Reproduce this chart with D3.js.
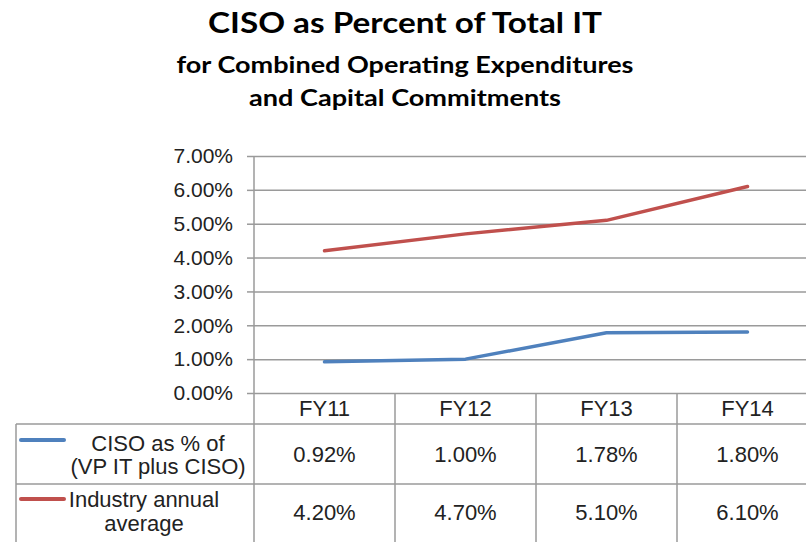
<!DOCTYPE html>
<html>
<head>
<meta charset="utf-8">
<script src="https://cdn.jsdelivr.net/npm/d3@7"></script>
<style>
  body { margin: 0; background: #fff; }
  svg { display: block; }
</style>
</head>
<body>
<script>
// chart data
const categories = ['FY11', 'FY12', 'FY13', 'FY14'];
const cisoValues = [0.92, 1.00, 1.78, 1.80];
const industryValues = [4.20, 4.70, 5.10, 6.10];
const yTicks = [0, 1, 2, 3, 4, 5, 6, 7];
const seriesLabels = [['CISO as % of', '(VP IT plus CISO)'], ['Industry annual', 'average']];
const titleLines = ['CISO as Percent of Total IT', 'for Combined Operating Expenditures', 'and Capital Commitments'];

const svgWidth = 806;
const svgHeight = 542;

const svg = d3.select('body').append('svg')
  .attr('width', svgWidth)
  .attr('height', svgHeight);

const xScale = d3.scaleBand()
  .domain(categories)
  .range([254, 818]);

const yScale = d3.scaleLinear()
  .domain([0, 7])
  .range([393, 156]);

const colors = ['#4f81bd', '#c0504d'];
const gridColor = '#9a9a9a';
const textFont = '"Liberation Sans", Arial, sans-serif';

// title
const titleY = [33, 73, 106];
const titleSize = [29, 22, 22];
const titleWidth = [394, 457, 312];
svg.selectAll('.title')
  .data(titleLines)
  .enter().append('text')
  .attr('class', 'title')
  .attr('x', 405)
  .attr('y', (d, i) => titleY[i])
  .attr('text-anchor', 'middle')
  .attr('font-family', 'Lato, "Open Sans", sans-serif')
  .attr('font-weight', 'bold')
  .attr('font-size', (d, i) => titleSize[i])
  .attr('textLength', (d, i) => titleWidth[i])
  .attr('lengthAdjust', 'spacingAndGlyphs')
  .attr('fill', '#000')
  .text(d => d);

// gridlines
svg.append('g')
  .attr('transform', 'translate(254,0)')
  .call(d3.axisLeft(yScale).tickValues(yTicks).tickSize(-(818 - 254)).tickFormat(''))
  .call(g => g.select('.domain').remove())
  .call(g => g.selectAll('line').attr('stroke', gridColor).attr('stroke-width', 1.5));

// y axis
const yAxis = svg.append('g')
  .attr('transform', 'translate(254,0)')
  .call(d3.axisLeft(yScale).tickValues(yTicks).tickSize(7).tickPadding(14)
    .tickFormat(d => d.toFixed(2) + '%'));
yAxis.select('.domain').remove();
yAxis.selectAll('line').attr('stroke', gridColor).attr('stroke-width', 1.5);
yAxis.selectAll('text')
  .attr('font-family', textFont)
  .attr('font-size', 21)
  .attr('fill', '#222');

// data table lines
const table = svg.append('g').attr('stroke', gridColor).attr('stroke-width', 1.5);
table.append('line').attr('x1', 254).attr('x2', 254).attr('y1', yScale(7)).attr('y2', svgHeight);
table.selectAll('.vline')
  .data(categories.slice(1))
  .enter().append('line')
  .attr('class', 'vline')
  .attr('x1', d => xScale(d)).attr('x2', d => xScale(d))
  .attr('y1', yScale(0)).attr('y2', svgHeight);
table.append('line').attr('x1', 16).attr('x2', 16).attr('y1', 424).attr('y2', svgHeight);
[424, 484].forEach(y => {
  table.append('line').attr('x1', 16).attr('x2', svgWidth).attr('y1', y).attr('y2', y);
});

// header labels
svg.selectAll('.cat')
  .data(categories)
  .enter().append('text')
  .attr('class', 'cat')
  .attr('x', d => xScale(d) + xScale.bandwidth() / 2)
  .attr('y', 408)
  .attr('dy', '0.36em')
  .attr('text-anchor', 'middle')
  .attr('font-family', textFont)
  .attr('font-size', 22)
  .attr('fill', '#222')
  .text(d => d);

// table values
const rowCenters = [454, 512];
[cisoValues, industryValues].forEach((vals, r) => {
  svg.selectAll('.val' + r)
    .data(vals)
    .enter().append('text')
    .attr('class', 'val' + r)
    .attr('x', (d, i) => xScale(categories[i]) + xScale.bandwidth() / 2)
    .attr('y', rowCenters[r])
    .attr('dy', '0.36em')
    .attr('text-anchor', 'middle')
    .attr('font-family', textFont)
    .attr('font-size', 22)
    .attr('fill', '#222')
    .text(d => d.toFixed(2) + '%');
});

// legend keys + labels
const keyY = [440, 499];
const labelX = [158, 144];
const labelY = [[443, 466], [499, 523]];
seriesLabels.forEach((lines, r) => {
  svg.append('line')
    .attr('x1', 21).attr('x2', 64)
    .attr('y1', keyY[r]).attr('y2', keyY[r])
    .attr('stroke', colors[r])
    .attr('stroke-width', 4)
    .attr('stroke-linecap', 'round');
  lines.forEach((t, j) => {
    svg.append('text')
      .attr('x', labelX[r])
      .attr('y', labelY[r][j])
      .attr('dy', '0.36em')
      .attr('text-anchor', 'middle')
      .attr('font-family', textFont)
      .attr('font-size', 22)
      .attr('fill', '#222')
      .text(t);
  });
});

// lines
const line = d3.line()
  .x((d, i) => xScale(categories[i]) + xScale.bandwidth() / 2)
  .y(d => yScale(d));

[cisoValues, industryValues].forEach((vals, r) => {
  svg.append('path')
    .datum(vals)
    .attr('d', line)
    .attr('fill', 'none')
    .attr('stroke', colors[r])
    .attr('stroke-width', 3.5)
    .attr('stroke-linejoin', 'round')
    .attr('stroke-linecap', 'round');
});
</script>
</body>
</html>
